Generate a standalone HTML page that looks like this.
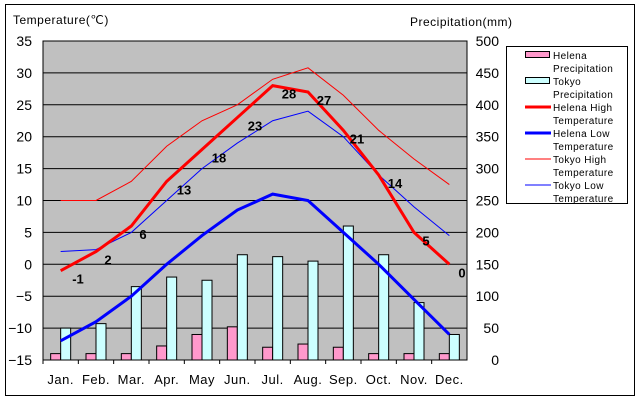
<!DOCTYPE html>
<html><head><meta charset="utf-8"><style>
html,body{margin:0;padding:0;background:#fff;width:640px;height:400px;overflow:hidden}
svg{display:block;font-family:"Liberation Sans",sans-serif}
</style></head><body>
<svg id="c" width="640" height="400" xmlns="http://www.w3.org/2000/svg"></svg>
<script>
var s=document.getElementById('c'),h='';
var L=43,R=467,T=41,B=360,W=(R-L)/12;
function y(t){return T+(35-t)*(B-T)/50}
function yp(p){return B-p*(B-T)/500}
function cx(i){return L+W*(i+0.5)}
h+='<rect x="5.5" y="4.5" width="629" height="391" fill="#fff" stroke="#000"/>';
h+='<rect x="'+L+'" y="'+T+'" width="'+(R-L)+'" height="'+(B-T)+'" fill="#c0c0c0" stroke="#000"/>';
for(var k=1;k<10;k++){var yy=T+k*(B-T)/10;h+='<line x1="'+L+'" x2="'+R+'" y1="'+yy+'" y2="'+yy+'" stroke="#000"/>';}
for(var k=0;k<=10;k++){var t=35-5*k,yy=T+k*(B-T)/10;
h+='<text x="32" y="'+(yy+5)+'" font-size="14" text-anchor="end">'+(t<0?'\u2212'+(-t):t)+'</text>';
h+='<text x="499" y="'+(yy+5)+'" font-size="14" text-anchor="end">'+(500-50*k)+'</text>';}
var hp=[10,10,10,22,40,52,20,25,20,10,10,10],tp=[50,57,115,130,125,165,162,155,210,165,90,40];
var mon=['Jan.','Feb.','Mar.','Apr.','May','Jun.','Jul.','Aug.','Sep.','Oct.','Nov.','Dec.'];
for(var i=0;i<12;i++){var c=cx(i);
h+='<rect x="'+(c-10)+'" y="'+yp(hp[i])+'" width="10" height="'+(B-yp(hp[i]))+'" fill="#ff99cc" stroke="#000" stroke-width="1"/>';
h+='<rect x="'+c+'" y="'+yp(tp[i])+'" width="10" height="'+(B-yp(tp[i]))+'" fill="#ccffff" stroke="#000" stroke-width="1"/>';
h+='<text x="'+c+'" y="384" font-size="13" text-anchor="middle" letter-spacing="0.5">'+mon[i]+'</text>';
h+='<line x1="'+(L+W*i)+'" x2="'+(L+W*i)+'" y1="'+B+'" y2="'+(B+4)+'" stroke="#000"/>';}
function line(d,col,w){var p=d.map(function(v,i){return cx(i)+','+y(v)}).join(' ');
h+='<polyline points="'+p+'" fill="none" stroke="'+col+'" stroke-width="'+w+'"/>';}
line([10,10,13,18.5,22.5,25,29,30.8,26.5,21,16.5,12.5],'#f00',1);
line([2,2.3,5,10,15,19,22.5,24,20,14,9,4.5],'#00f',1);
line([-12,-9,-5,0,4.5,8.5,11,10,5,0,-5.5,-11],'#00f',3);
var hh=[-1,2,6,13,18,23,28,27,21,14,5,0];
line(hh,'#f00',3);
var lx=[78,108,143,184,219,255,289,324,357,395,426,462];
for(var i=0;i<12;i++)h+='<text x="'+lx[i]+'" y="'+(y(hh[i])+13)+'" font-size="13" font-weight="bold" text-anchor="middle">'+hh[i]+'</text>';
h+='<text x="13" y="24" font-size="12" letter-spacing="0.5">Temperature(\u2103)</text>';
h+='<text x="410" y="26" font-size="12" letter-spacing="0.5">Precipitation(mm)</text>';
h+='<rect x="506.5" y="46.5" width="121" height="157" fill="#fff" stroke="#000"/>';
var lg=[['Helena','Precipitation','b','#ff99cc'],['Tokyo','Precipitation','b','#ccffff'],['Helena High','Temperature','l3','#f00'],['Helena Low','Temperature','l3','#00f'],['Tokyo High','Temperature','l1','#f00'],['Tokyo Low','Temperature','l1','#00f']];
for(var i=0;i<6;i++){var yy=56+i*26;
if(lg[i][2]=='b')h+='<rect x="525.5" y="'+(yy-4.5)+'" width="24" height="6" fill="'+lg[i][3]+'" stroke="#000"/>';
else h+='<line x1="525" x2="551" y1="'+(yy-1)+'" y2="'+(yy-1)+'" stroke="'+lg[i][3]+'" stroke-width="'+(lg[i][2]=='l3'?3:1)+'"/>';
h+='<text x="553" y="'+(yy+3)+'" font-size="10" letter-spacing="0.4">'+lg[i][0]+'</text><text x="553" y="'+(yy+16)+'" font-size="10" letter-spacing="0.4">'+lg[i][1]+'</text>';}
s.innerHTML=h;
</script>
</body></html>
